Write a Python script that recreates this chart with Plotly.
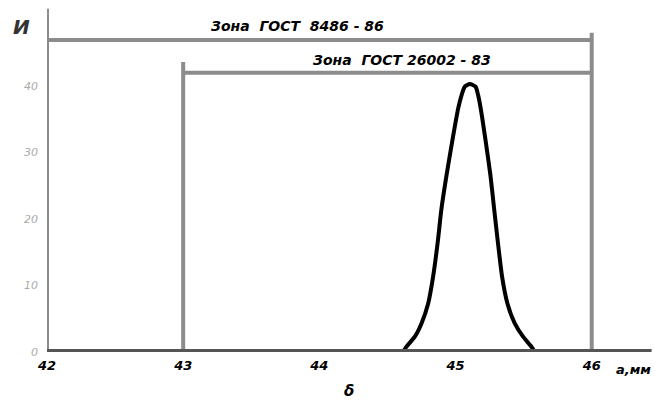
import plotly.graph_objects as go

# Distribution curve
curve_x = [44.615, 44.640, 44.701, 44.750, 44.799, 44.835, 44.868, 44.897, 44.934, 44.975, 45.019, 45.044, 45.068,
           45.105,
           45.147, 45.166, 45.185, 45.222, 45.256, 45.283, 45.312, 45.342, 45.381, 45.435, 45.496, 45.557, 45.582]
curve_y = [0.0, 0.8, 2.3, 4.3, 7.3, 11.3, 16.3, 21.6, 26.6, 31.6, 36.6, 38.6, 39.9,
           40.3,
           39.9, 38.6, 36.6, 31.6, 26.6, 21.6, 16.3, 11.3, 7.3, 4.3, 2.3, 0.8, 0.0]

x_ticks = [42, 43, 44, 45, 46]
y_ticks = [0, 10, 20, 30, 40]

# Tolerance zones
zone1 = dict(x0=42, x1=46, y=46.9, label="Зона  ГОСТ  8486 - 86")
zone2 = dict(x0=43, x1=46, y=42.0, label="Зона  ГОСТ 26002 - 83")

GRAY = "#8c8c8c"
FONT = "DejaVu Sans"

fig = go.Figure()
fig.add_trace(go.Scatter(x=curve_x, y=curve_y, mode="lines",
                         line=dict(color="black", width=4, shape="spline", smoothing=0.6),
                         showlegend=False, hoverinfo="skip"))

shapes = []
shapes.append(dict(type="line", xref="x", yref="y", x0=42, x1=42, y0=0, y1=51.6,
                   line=dict(color=GRAY, width=4), layer="below"))
shapes.append(dict(type="line", xref="x", yref="y", x0=zone1["x0"], x1=zone1["x1"], y0=zone1["y"], y1=zone1["y"],
                   line=dict(color=GRAY, width=4)))
shapes.append(dict(type="line", xref="x", yref="y", x0=zone1["x1"], x1=zone1["x1"], y0=0, y1=48.0,
                   line=dict(color=GRAY, width=4)))
shapes.append(dict(type="line", xref="x", yref="y", x0=zone2["x0"], x1=zone2["x1"], y0=zone2["y"], y1=zone2["y"],
                   line=dict(color=GRAY, width=4)))
shapes.append(dict(type="line", xref="x", yref="y", x0=zone2["x0"], x1=zone2["x0"], y0=0, y1=43.6,
                   line=dict(color=GRAY, width=4)))
shapes.append(dict(type="line", xref="x", yref="y", x0=42, x1=46.44, y0=0, y1=0,
                   line=dict(color="#555555", width=6)))

annotations = [
    dict(x=43.84, y=zone1["y"], xref="x", yref="y", text=zone1["label"], showarrow=False,
         yanchor="bottom", yshift=4, font=dict(family=FONT, size=14, color="black", style="italic", weight="bold")),
    dict(x=44.61, y=zone2["y"], xref="x", yref="y", text=zone2["label"], showarrow=False,
         yanchor="bottom", yshift=3, font=dict(family=FONT, size=14, color="black", style="italic", weight="bold")),
    dict(x=46.31, y=0, xref="x", yref="y", text="a,мм", showarrow=False,
         yanchor="top", yshift=-8, font=dict(family=FONT, size=13, color="black", style="italic", weight="bold")),
    dict(x=44.22, y=0, xref="x", yref="y", text="δ", showarrow=False,
         yanchor="top", yshift=-28, font=dict(family=FONT, size=15, color="black", style="italic", weight="bold")),
    dict(x=0.034, y=0.94, xref="paper", yref="paper", xanchor="center", yanchor="middle", text="И", showarrow=False,
         xshift=-46, font=dict(family=FONT, size=20, color="#333333", style="italic", weight="bold")),
]

fig.update_layout(
    width=655, height=400,
    margin=dict(l=47, r=2, t=6, b=48),
    paper_bgcolor="white", plot_bgcolor="white",
    shapes=shapes, annotations=annotations,
    xaxis=dict(range=[42, 46.45], tickvals=x_ticks, ticktext=[str(v) for v in x_ticks],
               showgrid=False, zeroline=False, showline=False, ticks="",
               tickfont=dict(family=FONT, size=13, color="black", style="italic", weight="bold"),
               ticklabelstandoff=4),
    yaxis=dict(range=[0, 52.03], tickvals=y_ticks, ticktext=[str(v) for v in y_ticks],
               showgrid=False, zeroline=False, showline=False, ticks="",
               tickfont=dict(family=FONT, size=11, color="#aaaaaa", style="italic"),
               ticklabelstandoff=8),
)

fig.write_html("out.html")
